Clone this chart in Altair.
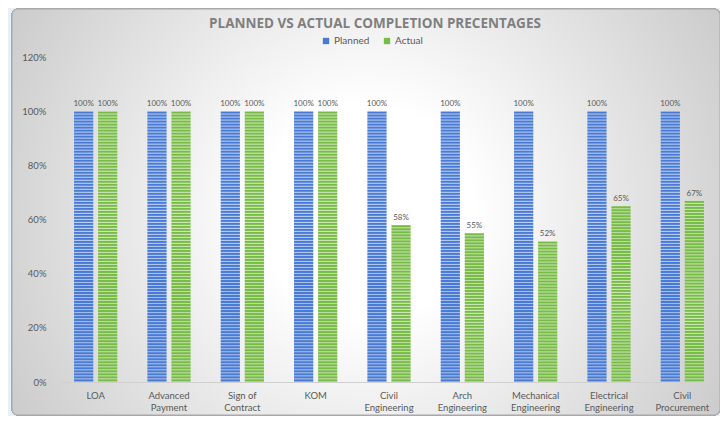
import altair as alt
import pandas as pd

categories = ["LOA", "Advanced Payment", "Sign of Contract", "KOM", "Civil Engineering",
              "Arch Engineering", "Mechanical Engineering", "Electrical Engineering", "Civil Procurement"]
planned = [1.00, 1.00, 1.00, 1.00, 1.00, 1.00, 1.00, 1.00, 1.00]
actual = [1.00, 1.00, 1.00, 1.00, 0.58, 0.55, 0.52, 0.65, 0.67]
series = ["Planned", "Actual"]

rows = []
for c, p, a in zip(categories, planned, actual):
    rows.append({"category": c, "series": "Planned", "value": p})
    rows.append({"category": c, "series": "Actual", "value": a})
df = pd.DataFrame(rows)

W, H = 660, 325
YMAX = 1.2
FONT = "Lato"
TXT = "#595959"

stripe_cols = {"Planned": ("#4a7bd4", "#b9ccf1"), "Actual": ("#78bc47", "#cde6b8")}


def stripes(dark, light, hpx, period=3.0):
    n = max(1, round(hpx / period))
    stops = []
    for k in range(n):
        stops += [{"offset": k / n, "color": light},
                  {"offset": (k + 0.25) / n, "color": dark},
                  {"offset": (k + 0.6) / n, "color": dark}]
    stops.append({"offset": 1, "color": light})
    return alt.LinearGradient(gradient="linear", x1=0, y1=0, x2=0, y2=1, stops=stops)


xscale = alt.Scale(domain=categories, paddingInner=0.41, paddingOuter=0.205)
yscale = alt.Scale(domain=[0, YMAX])
xoff = alt.XOffset("series:N", sort=series, scale=alt.Scale(domain=series, paddingInner=0.2))

xaxis = alt.Axis(title=None, labelAngle=0, ticks=False, domainColor="#d0d0d0", zindex=2,
                 labelFont=FONT, labelFontSize=9.5, labelColor=TXT,
                 labelPadding=8, labelLineHeight=12.5,
                 labelExpr="datum.label == 'Sign of Contract' ? ['Sign of', 'Contract'] : split(datum.label, ' ')")
yaxis = alt.Axis(title=None, format=".0%", values=[0, 0.2, 0.4, 0.6, 0.8, 1.0, 1.2], zindex=2,
                 grid=False, ticks=False, domain=False, labelFont=FONT,
                 labelFontSize=9.5, labelColor=TXT, labelPadding=13)

base = alt.Chart(df)

frame = base.mark_rect(
    cornerRadius=6, stroke="#a8a8a8", strokeWidth=1,
    color=alt.RadialGradient(
        gradient="radial", x1=0.5, y1=0.5, x2=0.5, y2=0.5, r1=0.15, r2=0.62,
        stops=[{"offset": 0, "color": "#ffffff"}, {"offset": 1, "color": "#c6c6c6"}]),
).encode(x=alt.value(-47), x2=alt.value(661), y=alt.value(-48), y2=alt.value(358))

layers = [frame]
seen = []
for s, v in zip(df["series"], df["value"]):
    if (s, v) in seen:
        continue
    seen.append((s, v))
    dark, light = stripe_cols[s]
    g = stripes(dark, light, v / YMAX * H)
    layers.append(
        base.transform_filter(
            (alt.datum.series == s) & (alt.datum.value == v)
        ).mark_bar(color=g).encode(
            x=alt.X("category:N", sort=categories, scale=xscale, axis=xaxis),
            xOffset=xoff,
            y=alt.Y("value:Q", scale=yscale, axis=yaxis),
        )
    )

labels = base.mark_text(baseline="bottom", dy=-3, font=FONT, fontSize=8, color=TXT).encode(
    x=alt.X("category:N", sort=categories, scale=xscale, axis=xaxis),
    xOffset=xoff,
    y=alt.Y("value:Q", scale=yscale, axis=yaxis),
    text=alt.Text("value:Q", format=".0%"),
)
layers.append(labels)

legend_layer = base.mark_square(opacity=0, size=40).encode(
    x=alt.X("category:N", sort=categories, scale=xscale, axis=xaxis),
    y=alt.Y("value:Q", scale=yscale, axis=yaxis),
    color=alt.Color("series:N", sort=series,
                    scale=alt.Scale(domain=series, range=["#4a7bd4", "#78bc47"]),
                    legend=alt.Legend(title=None, orient="none", legendX=262, legendY=-21,
                                      direction="horizontal", symbolType="square", symbolSize=40,
                                      symbolOpacity=1, symbolStrokeWidth=0,
                                      labelFont=FONT, labelFontSize=10, labelColor=TXT,
                                      columnPadding=12, labelOffset=3, zindex=2)),
)
layers.append(legend_layer)

chart = alt.layer(*layers).properties(
    width=W, height=H,
    title=alt.TitleParams("PLANNED VS ACTUAL COMPLETION PRECENTAGES", font="Open Sans", fontSize=13.5,
                          fontWeight="bold", color="#7f7f7f", anchor="middle", dx=-14,
                          offset=-22, zindex=2),
    autosize=alt.AutoSizeParams(type="none"),
    padding={"left": 51, "top": 49, "right": 1, "bottom": 34},
    background="#e6f0fb",
).configure_view(stroke=None)

chart.save("out.html", embed_options={"renderer": "svg", "actions": False})
